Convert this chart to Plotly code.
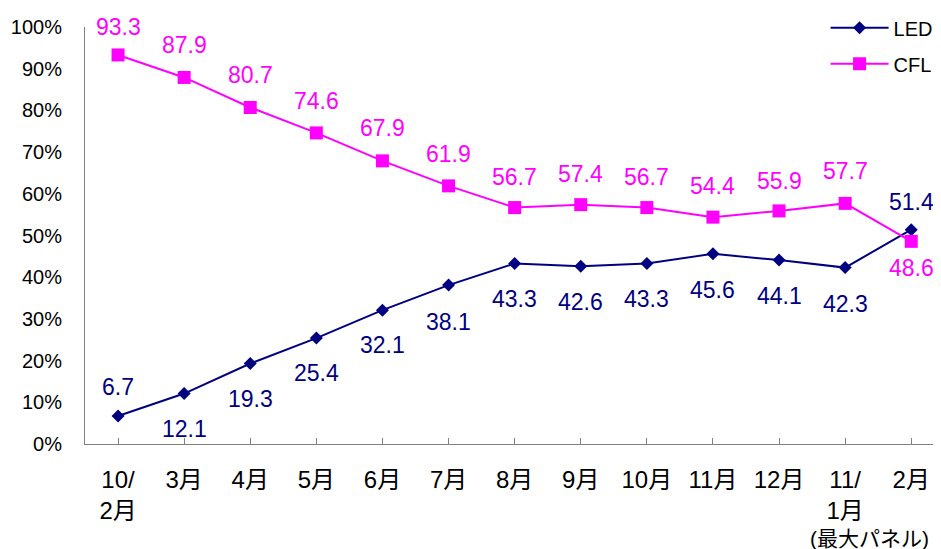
import plotly.graph_objects as go

categories = ["10/<br>2月", "3月", "4月", "5月", "6月", "7月", "8月", "9月",
              "10月", "11月", "12月", "11/<br>1月", "2月"]
led_values = [6.7, 12.1, 19.3, 25.4, 32.1, 38.1, 43.3, 42.6, 43.3, 45.6, 44.1, 42.3, 51.4]
cfl_values = [93.3, 87.9, 80.7, 74.6, 67.9, 61.9, 56.7, 57.4, 56.7, 54.4, 55.9, 57.7, 48.6]
y_ticks = [0, 10, 20, 30, 40, 50, 60, 70, 80, 90, 100]
extra_label = "(最大パネル)"

# label placement (style, not data): pixel shifts of the data labels
led_label_shift = [29, -35, -35, -35, -35, -37, -36, -36, -36, -36, -36, -36, 28]
cfl_label_shift = [28, 32, 32, 32, 33, 32, 31, 31, 31, 31, 30, 32, -27]

LED_COLOR = "#000080"
CFL_COLOR = "#FF00FF"
FONT = "Liberation Sans, Arial, Noto Sans CJK JP, sans-serif"

x_idx = list(range(len(categories)))

fig = go.Figure()
fig.add_trace(go.Scatter(
    x=x_idx, y=led_values, name="LED", mode="lines+markers",
    line=dict(color=LED_COLOR, width=2),
    marker=dict(symbol="diamond", size=10, color=LED_COLOR),
    legendgroup="a",
))
fig.add_trace(go.Scatter(
    x=x_idx, y=cfl_values, name="CFL", mode="lines+markers",
    line=dict(color=CFL_COLOR, width=2),
    marker=dict(symbol="square", size=13, color=CFL_COLOR),
    legendgroup="b",
))

annotations = []
for i, v in enumerate(led_values):
    annotations.append(dict(x=i, y=v, text=f"{v:.1f}", showarrow=False,
                            yshift=led_label_shift[i], xref="x", yref="y",
                            font=dict(family=FONT, size=23, color=LED_COLOR)))
for i, v in enumerate(cfl_values):
    annotations.append(dict(x=i, y=v, text=f"{v:.1f}", showarrow=False,
                            yshift=cfl_label_shift[i], xref="x", yref="y",
                            font=dict(family=FONT, size=23, color=CFL_COLOR)))
annotations.append(dict(x=11, y=0, xref="x", yref="paper", text=extra_label,
                        showarrow=False, xshift=24, yshift=-94, yanchor="middle",
                        borderpad=0,
                        font=dict(family=FONT, size=21, color="black")))

# the page body has an 8px margin, so the figure is sized to fit the window
fig.update_layout(
    width=933, height=541,
    margin=dict(l=77, r=0, t=16, b=105),
    paper_bgcolor="white", plot_bgcolor="white",
    font=dict(family=FONT, color="black"),
    showlegend=True,
    legend=dict(x=0.996, xanchor="right", y=1.045, yanchor="top",
                font=dict(family=FONT, size=20, color="black"),
                bgcolor="rgba(0,0,0,0)", itemwidth=58, tracegroupgap=7,
                traceorder="grouped"),
    annotations=annotations,
)
fig.update_xaxes(
    range=[-0.5, 12.45], tickmode="array", tickvals=x_idx, ticktext=categories,
    showline=True, linecolor="#808080", linewidth=1,
    ticks="inside", ticklen=6, tickcolor="#808080", tickson="boundaries",
    showgrid=False, zeroline=False,
    tickfont=dict(family=FONT, size=24, color="black"),
    ticklabelstandoff=14,
)
fig.update_yaxes(
    range=[0, 100], tickmode="array", tickvals=y_ticks,
    ticktext=[f"{t}%" for t in y_ticks],
    showline=True, linecolor="#808080", linewidth=1,
    ticks="", showgrid=False, zeroline=False,
    tickfont=dict(family=FONT, size=20, color="black"),
    ticklabelstandoff=18,
)

fig.write_html("out.html")
